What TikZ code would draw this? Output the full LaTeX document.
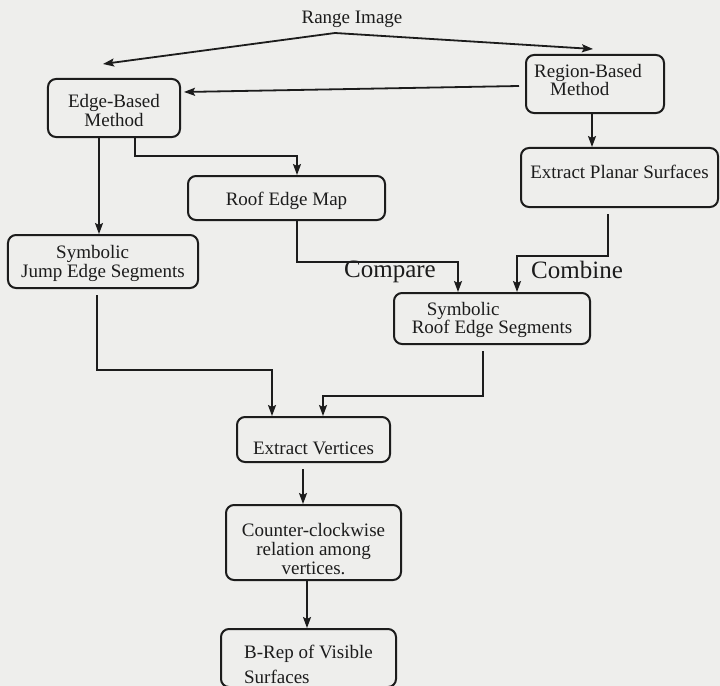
\documentclass[tikz,border=0pt]{standalone}
\usepackage{fontspec}
\setmainfont{Liberation Serif}
\usetikzlibrary{arrows.meta,positioning,calc}
\definecolor{paper}{RGB}{238,238,236}
\definecolor{ink}{RGB}{28,28,28}

\begin{document}
\begin{tikzpicture}[x=1bp,y=-1bp,>={Stealth[length=11bp,width=8bp,inset=2bp]},
  line width=1.8bp,draw=ink,
  box node/.style={rectangle,rounded corners=8bp,draw=ink,line width=2bp,
    inner sep=0pt,align=center,font=\fontsize{19bp}{19bp}\selectfont,text=ink},
  plain node/.style={inner sep=0pt,font=\fontsize{19bp}{19bp}\selectfont,text=ink},
  tag node/.style={inner sep=0pt,font=\fontsize{25bp}{25bp}\selectfont,text=ink}]

  \fill[paper] (0,0) rectangle (720,686);
  \useasboundingbox (0,0) rectangle (720,686);

  \node[plain node] (range) at (352,19) {Range Image};
  \node[box node,minimum width=132bp,text height=48bp,text depth=10bp] (edge) at (114,108) {Edge-Based\\Method};
  \node[box node,align=left,minimum width=138bp,text height=41bp,text depth=17bp] (region) at (595,84)
    {Region-Based\hspace*{14bp}\\[-1bp]\hspace*{16bp}Method};
  \node[box node,minimum width=197bp,text height=30bp,text depth=29bp] (planar) at (619.5,177.5) {Extract Planar Surfaces};
  \node[box node,minimum width=197bp,text height=29bp,text depth=15bp] (roofmap) at (286.5,198) {Roof Edge Map};
  \node[box node,align=left,minimum width=190bp,text height=42bp,text depth=11bp] (jump) at (103,261.5)
    {\hspace*{35bp}Symbolic\\Jump Edge Segments};
  \node[box node,align=left,minimum width=196bp,text height=40bp,text depth=11bp] (roofseg) at (492,318.5)
    {\hspace*{15bp}Symbolic\\[-1bp]Roof Edge Segments};
  \node[box node,minimum width=153bp,text height=37bp,text depth=8bp] (extract) at (313.5,439.5) {Extract Vertices};
  \node[box node,minimum width=175bp,text height=69bp,text depth=6bp] (counter) [below=41bp of extract]
    {Counter-clockwise\\relation among\\vertices.};
  \node[box node,align=left,minimum width=175bp,text height=54bp,text depth=4bp,xshift=-5bp] (brep) [below=47bp of counter]
    {B-Rep of Visible\\[6bp]Surfaces};

  \node[tag node] (compare) at (390,272) {Compare};
  \node[tag node] (combine) at (577,270) {Combine};

  \coordinate (apex) at (335,33);
  \coordinate (edgetip) at (103,64);
  \coordinate (regiontip) at (593,49);

  \draw[->] (apex) -- (edgetip);
  \draw[->] (apex) -- (regiontip);
  \draw[->] ($(region.west)+(-6,2)$) -- ($(edge.east)+(3,-16)$);
  \draw[->] ([xshift=-15bp]edge.south) -- ([xshift=-4bp]jump.north);
  \draw[->] ([xshift=21bp]edge.south) -- ++(0,18) -| ([xshift=10.5bp]roofmap.north);
  \draw[->] ([xshift=-3bp]region.south) -- ([xshift=-27.5bp]planar.north);
  \draw[->] ([xshift=10.5bp]roofmap.south) -- ++(0,41) -| ([xshift=-34bp]roofseg.north);
  \draw[->] ($(planar.south)+(-11.5,6)$) -- ++(0,42) -| ([xshift=25bp]roofseg.north);
  \draw[->] ($(jump.south)+(-6,6)$) -- ++(0,75) -| ([xshift=-41.5bp]extract.north);
  \draw[->] ($(roofseg.south)+(-9,6)$) -- ++(0,45) -| ([xshift=9.5bp]extract.north);
  \draw[->] ($(extract.south)+(-10.5,6)$) -- ([xshift=-10.5bp]counter.north);
  \draw[->] ($(counter.south)+(-6.5,0)$) -- ([xshift=-1.5bp]brep.north);

\end{tikzpicture}
\end{document}
